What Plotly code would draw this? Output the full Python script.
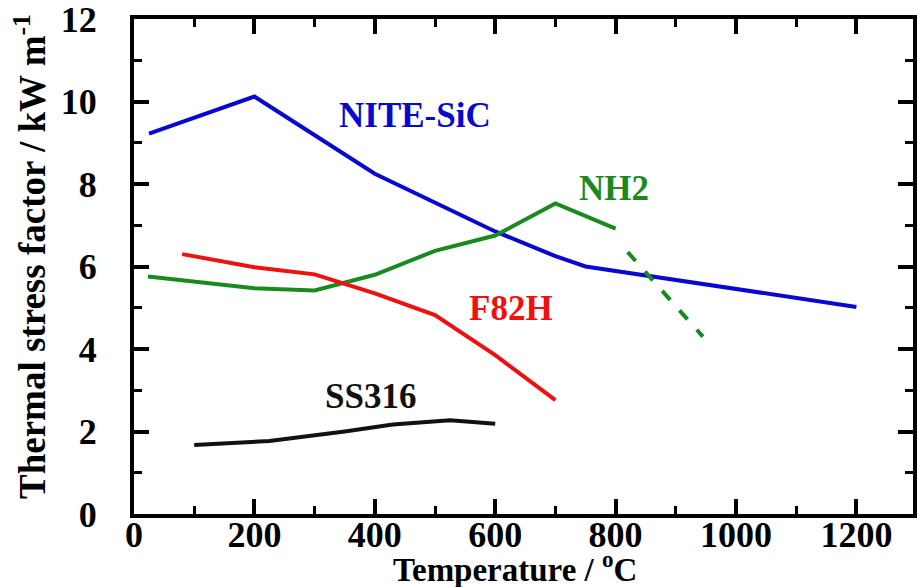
import plotly.graph_objects as go

# NITE-SiC
sic_t = [25, 200, 400, 500, 600, 700, 750, 1200]
sic_v = [9.22, 10.12, 8.25, 7.55, 6.85, 6.25, 6.0, 5.02]
# NH2 (measured) and extrapolated part
nh2_t = [23, 200, 300, 400, 500, 600, 700, 800]
nh2_v = [5.76, 5.47, 5.42, 5.8, 6.38, 6.75, 7.53, 6.92]
nh2_ext_t = [820, 945]
nh2_ext_v = [6.35, 4.3]
# F82H
f82h_t = [80, 200, 300, 400, 500, 600, 700]
f82h_v = [6.3, 5.98, 5.81, 5.35, 4.82, 3.85, 2.76]
# SS316
ss_t = [100, 225, 350, 430, 525, 600]
ss_v = [1.67, 1.77, 2.0, 2.17, 2.27, 2.19]

BLUE = "#0808d0"
GREEN = "#1a8a1e"
RED = "#f01010"
BLACK = "#111111"
FONT = "Liberation Serif"

X_MAX = 1294
Y_MAX = 12

fig = go.Figure()
LW = 4
fig.add_trace(go.Scatter(x=sic_t, y=sic_v, mode="lines", line=dict(color=BLUE, width=LW)))
fig.add_trace(go.Scatter(x=nh2_t, y=nh2_v, mode="lines", line=dict(color=GREEN, width=LW)))
fig.add_trace(go.Scatter(x=nh2_ext_t, y=nh2_ext_v, mode="lines",
                         line=dict(color=GREEN, width=LW, dash="12px,14px")))
fig.add_trace(go.Scatter(x=f82h_t, y=f82h_v, mode="lines", line=dict(color=RED, width=LW)))
fig.add_trace(go.Scatter(x=ss_t, y=ss_v, mode="lines", line=dict(color=BLACK, width=LW)))

labels = [
    ("NITE-SiC", 466, 9.65, BLUE),
    ("NH2", 797, 7.9, GREEN),
    ("F82H", 626, 4.98, RED),
    ("SS316", 393, 2.85, BLACK),
]
for text, x, y, c in labels:
    fig.add_annotation(x=x, y=y, text=f"<b>{text}</b>", showarrow=False,
                       font=dict(family=FONT, size=35, color=c))

# axis titles
fig.add_annotation(xref="paper", yref="paper", x=0.489, y=-0.06, yanchor="top",
                   text="<b>Temperature / <sup>o</sup>C</b>", showarrow=False,
                   font=dict(family=FONT, size=33, color="black"))
fig.add_annotation(xref="paper", yref="paper", x=-0.133, y=0.52, xanchor="center",
                   textangle=-90,
                   text="<b>Thermal stress factor / kW m<sup>-1</sup></b>", showarrow=False,
                   font=dict(family=FONT, size=37, color="black"))

axis_common = dict(
    showline=True, linecolor="black", linewidth=4, mirror="ticks",
    ticks="inside", tickwidth=4, tickcolor="black", ticklen=15,
    showgrid=False, zeroline=False,
    tickfont=dict(family=FONT, size=36, color="black"),
    tickprefix="<b>", ticksuffix="</b>",
    ticklabeloverflow="allow",
)

fig.update_xaxes(
    range=[0, X_MAX], dtick=200, tick0=0,
    minor=dict(ticks="inside", ticklen=8, tickwidth=3, dtick=100, tickcolor="black", showgrid=False),
    ticklabelstandoff=-14,
    **axis_common,
)
fig.update_yaxes(
    range=[0, Y_MAX], dtick=2, tick0=0,
    minor=dict(ticks="inside", ticklen=8, tickwidth=3, dtick=1, tickcolor="black", showgrid=False),
    ticklabelstandoff=26,
    **axis_common,
)

fig.update_layout(
    width=917, height=587,
    margin=dict(l=134, r=0, t=18, b=73),
    paper_bgcolor="white", plot_bgcolor="white",
    showlegend=False,
)

fig.write_html("out.html")
